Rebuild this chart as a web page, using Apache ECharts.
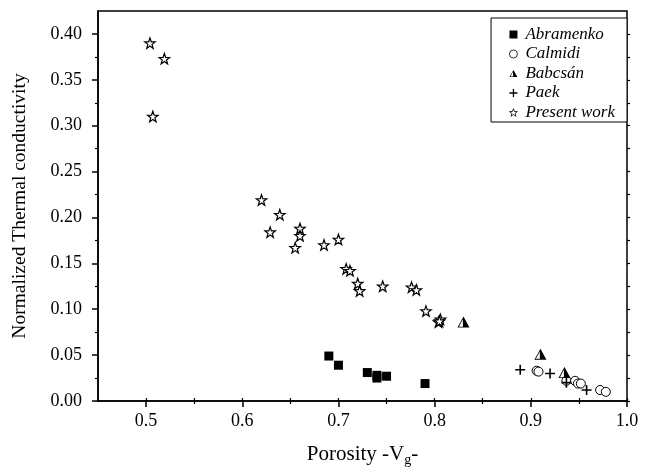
<!DOCTYPE html>
<html>
<head>
<meta charset="utf-8">
<script src="https://cdn.jsdelivr.net/npm/echarts@6/dist/echarts.min.js"></script>
<style>
  html, body { margin: 0; padding: 0; background: #fff; }
  #main { width: 652px; height: 472px; }
</style>
</head>
<body>
<div id="main"></div>
<script>
// values: [porosity, normalized conductivity]
var abramenko = [[0.690, 0.049], [0.700, 0.039], [0.730, 0.031], [0.740, 0.025], [0.740, 0.028], [0.750, 0.027], [0.790, 0.019]];
var calmidi = [[0.906, 0.033], [0.908, 0.032], [0.937, 0.022], [0.946, 0.022], [0.949, 0.019], [0.952, 0.019], [0.972, 0.012], [0.978, 0.010]];
var babcsan = [[0.830, 0.086], [0.910, 0.051], [0.935, 0.031]];
var paek = [[0.889, 0.034], [0.920, 0.030], [0.937, 0.020], [0.958, 0.012]];
var presentWork = [
    [0.504, 0.390], [0.519, 0.373], [0.507, 0.310], [0.620, 0.219], [0.639, 0.203],
    [0.629, 0.184], [0.660, 0.188], [0.660, 0.180], [0.655, 0.167], [0.685, 0.170],
    [0.700, 0.176], [0.708, 0.144], [0.712, 0.142], [0.720, 0.128], [0.722, 0.120],
    [0.746, 0.125], [0.776, 0.124], [0.781, 0.121], [0.791, 0.098], [0.804, 0.086],
    [0.806, 0.089], [0.805, 0.087]
];
var xMajor = [0.5, 0.6, 0.7, 0.8, 0.9, 1.0];
var xMinor = [0.55, 0.65, 0.75, 0.85, 0.95];
var yMajor = [0, 0.05, 0.10, 0.15, 0.20, 0.25, 0.30, 0.35, 0.40];
var yMinor = [0.025, 0.075, 0.125, 0.175, 0.225, 0.275, 0.325, 0.375];

var STAR = 'path://M0,-10 L2.35,-3.24 L9.51,-3.09 L3.8,1.24 L5.88,8.09 L0,4 L-5.88,8.09 L-3.8,1.24 L-9.51,-3.09 L-2.35,-3.24 Z';
var HALF_TRI = 'path://M0,0 L10,18 L-10,18 Z M-1,4.5 L-7.6,16.6 L-1,16.6 Z';
var PLUS = 'path://M-0.8,-5 L0.8,-5 L0.8,-0.8 L5,-0.8 L5,0.8 L0.8,0.8 L0.8,5 L-0.8,5 L-0.8,0.8 L-5,0.8 L-5,-0.8 L-0.8,-0.8 Z';

var font = 'Liberation Serif';
var chart = echarts.init(document.getElementById('main'));

function frameAxis(pos, ticks, len, extra) {
    var a = {
        type: 'value', position: pos,
        axisLine: { show: false },
        axisTick: { show: true, length: len, customValues: ticks, lineStyle: { color: '#000', width: 1.2 } },
        axisLabel: { show: false },
        splitLine: { show: false }
    };
    return Object.assign(a, extra);
}

var option = {
    animation: false,
    backgroundColor: '#fff',
    grid: { left: 98, right: 25, top: 11, bottom: 68, show: true, borderColor: '#000', borderWidth: 1.5, backgroundColor: 'transparent' },
    legend: {
        orient: 'vertical', right: 25, top: 18,
        backgroundColor: '#fff',
        borderColor: '#000', borderWidth: 1,
        padding: [8, 12, 1, 18],
        itemGap: 2.5, itemWidth: 8, itemHeight: 8,
        textStyle: { fontFamily: font, fontStyle: 'italic', fontSize: 17, color: '#000', padding: [0, 0, 0, 3] },
        data: [
            { name: 'Abramenko' },
            { name: 'Calmidi', itemStyle: { borderWidth: 0.8 } },
            { name: 'Babcsán' },
            { name: 'Paek' },
            { name: 'Present work', itemStyle: { borderWidth: 0.8 } }
        ]
    },
    xAxis: [
        {
            type: 'value', position: 'bottom', min: 0.45, max: 1.0,
            name: '{t|Porosity -V}{s|g}{t|-}', nameLocation: 'middle', nameGap: 40,
            nameTextStyle: {
                rich: {
                    t: { fontFamily: font, fontSize: 21, color: '#000' },
                    s: { fontFamily: font, fontSize: 14, color: '#000', verticalAlign: 'bottom', padding: [12, 0, 0, 0] }
                }
            },
            axisLine: { show: true, lineStyle: { color: '#000', width: 1.5 } },
            axisTick: { show: true, length: 6, customValues: xMajor, lineStyle: { color: '#000', width: 1.5 } },
            axisLabel: { customValues: xMajor, margin: 11, fontFamily: font, fontSize: 18, color: '#000', formatter: function (v) { return v.toFixed(1); } },
            splitLine: { show: false }
        },
        frameAxis('bottom', xMinor, 3, { min: 0.45, max: 1.0 }),
        frameAxis('top', xMajor.concat(xMinor), 3, { min: 0.45, max: 1.0 })
    ],
    yAxis: [
        {
            type: 'value', position: 'left', min: 0, max: 0.425,
            name: 'Normalized Thermal conductivity', nameLocation: 'middle', nameGap: 68,
            nameTextStyle: { fontFamily: font, fontSize: 19.5, color: '#000' },
            axisLine: { show: true, lineStyle: { color: '#000', width: 1.5 } },
            axisTick: { show: true, length: 6, customValues: yMajor, lineStyle: { color: '#000', width: 1.5 } },
            axisLabel: { customValues: yMajor, margin: 16, fontFamily: font, fontSize: 18, color: '#000', formatter: function (v) { return v.toFixed(2); } },
            splitLine: { show: false }
        },
        frameAxis('left', yMinor, 3, { min: 0, max: 0.425 }),
        frameAxis('right', yMajor.concat(yMinor), 3, { min: 0, max: 0.425 })
    ],
    series: [
        {
            name: 'Abramenko', type: 'scatter', data: abramenko,
            symbol: 'rect', symbolSize: 9,
            itemStyle: { color: '#000', opacity: 1 }
        },
        {
            name: 'Calmidi', type: 'scatter', data: calmidi,
            symbol: 'circle', symbolSize: 9,
            itemStyle: { color: '#fff', borderColor: '#000', borderWidth: 1, opacity: 1 }
        },
        {
            name: 'Babcsán', type: 'scatter', data: babcsan,
            symbol: HALF_TRI, symbolSize: [12, 11],
            itemStyle: { color: '#000', opacity: 1 }
        },
        {
            name: 'Paek', type: 'scatter', data: paek,
            symbol: PLUS, symbolSize: 10,
            itemStyle: { color: '#000', opacity: 1 }
        },
        {
            name: 'Present work', type: 'scatter', data: presentWork,
            symbol: STAR, symbolSize: 10.5,
            itemStyle: { color: '#fff', borderColor: '#000', borderWidth: 1.2, opacity: 1 }
        }
    ]
};
chart.setOption(option);
</script>
</body>
</html>
